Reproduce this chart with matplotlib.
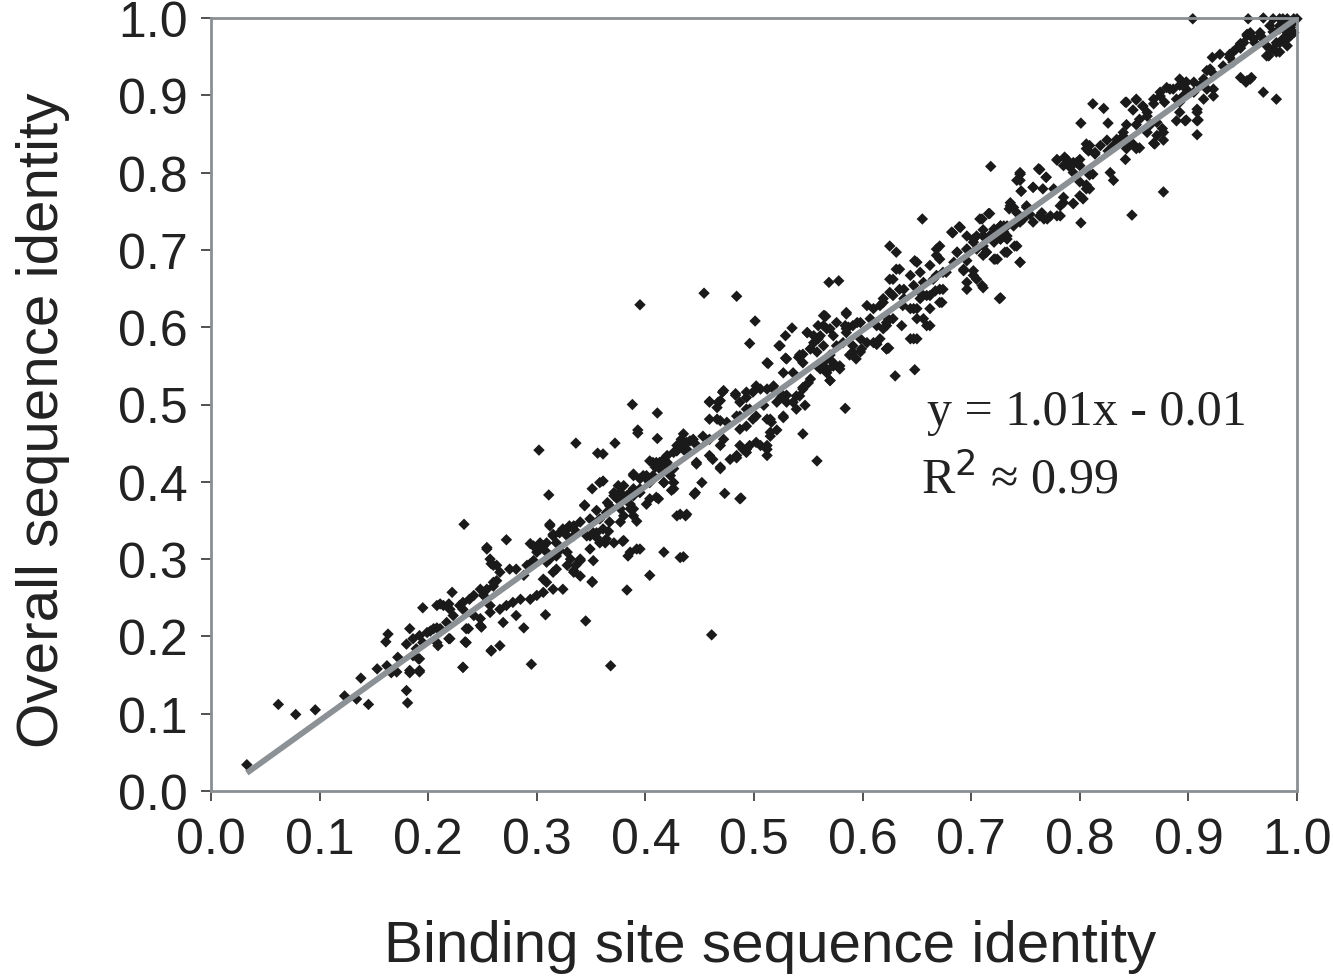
import matplotlib
matplotlib.use("Agg")
import matplotlib.pyplot as plt

# (binding site identity, overall identity) pairs, grouped by region
pts_low = [
    (0.033, 0.034), (0.062, 0.112), (0.078, 0.099), (0.096, 0.105), (0.123, 0.123), (0.134, 0.119),
    (0.138, 0.146), (0.145, 0.112), (0.153, 0.158), (0.162, 0.162), (0.166, 0.153), (0.171, 0.154),
    (0.172, 0.173), (0.180, 0.130), (0.181, 0.114), (0.183, 0.153), (0.192, 0.154), (0.161, 0.193),
    (0.163, 0.203), (0.183, 0.210), (0.180, 0.190), (0.186, 0.197), (0.191, 0.171), (0.189, 0.184),
    (0.195, 0.237), (0.202, 0.207), (0.208, 0.211), (0.209, 0.188), (0.211, 0.242), (0.219, 0.242),
    (0.222, 0.257), (0.219, 0.197), (0.232, 0.160), (0.234, 0.193), (0.223, 0.227), (0.232, 0.235),
    (0.238, 0.248), (0.237, 0.210), (0.242, 0.227), (0.249, 0.212), (0.251, 0.257), (0.257, 0.240),
    (0.258, 0.182), (0.260, 0.270), (0.254, 0.313), (0.258, 0.294),
    (0.183, 0.156), (0.192, 0.156), (0.186, 0.175), (0.192, 0.171), (0.195, 0.192), (0.192, 0.201),
    (0.199, 0.205), (0.205, 0.210), (0.211, 0.210), (0.217, 0.218), (0.208, 0.240), (0.214, 0.240),
    (0.220, 0.235), (0.229, 0.240), (0.232, 0.244), (0.242, 0.253), (0.251, 0.253), (0.248, 0.261),
    (0.254, 0.261), (0.260, 0.265), (0.263, 0.272), (0.257, 0.300), (0.260, 0.292), (0.266, 0.283),
    (0.208, 0.192), (0.220, 0.197), (0.235, 0.210), (0.235, 0.192), (0.248, 0.214), (0.248, 0.223),
    (0.257, 0.231), (0.266, 0.235), (0.272, 0.240), (0.278, 0.244), (0.285, 0.248), (0.269, 0.218),
    (0.281, 0.227), (0.288, 0.211), (0.258, 0.181), (0.266, 0.188), (0.232, 0.160),
]
pts_lowmid = [
    (0.233, 0.345), (0.254, 0.315), (0.272, 0.325), (0.263, 0.292), (0.275, 0.287), (0.281, 0.287),
    (0.288, 0.279), (0.291, 0.292), (0.294, 0.294), (0.297, 0.298), (0.297, 0.317), (0.294, 0.320),
    (0.303, 0.321), (0.303, 0.313), (0.306, 0.317), (0.300, 0.309), (0.309, 0.309), (0.309, 0.296),
    (0.318, 0.304), (0.312, 0.300), (0.318, 0.287), (0.315, 0.283), (0.306, 0.274), (0.315, 0.261),
    (0.306, 0.257), (0.300, 0.253), (0.294, 0.248), (0.309, 0.270), (0.324, 0.261), (0.308, 0.228),
    (0.345, 0.220), (0.295, 0.164), (0.368, 0.162), (0.311, 0.383), (0.302, 0.441), (0.336, 0.450),
    (0.312, 0.345), (0.315, 0.332), (0.324, 0.339), (0.330, 0.343), (0.336, 0.336), (0.328, 0.330),
    (0.334, 0.330), (0.346, 0.330), (0.352, 0.334), (0.355, 0.328), (0.358, 0.321), (0.363, 0.321),
    (0.366, 0.336), (0.312, 0.343), (0.318, 0.321), (0.321, 0.334), (0.315, 0.330), (0.309, 0.321),
    (0.321, 0.311), (0.328, 0.309), (0.331, 0.300), (0.328, 0.292), (0.334, 0.283), (0.340, 0.278),
    (0.340, 0.300), (0.349, 0.313), (0.352, 0.298), (0.336, 0.292), (0.334, 0.285), (0.340, 0.298),
    (0.351, 0.270), (0.351, 0.271), (0.344, 0.370), (0.355, 0.363), (0.349, 0.352), (0.358, 0.352),
    (0.367, 0.369), (0.374, 0.382), (0.377, 0.386), (0.383, 0.378), (0.389, 0.382), (0.386, 0.365),
    (0.377, 0.348), (0.367, 0.348), (0.361, 0.339), (0.355, 0.334), (0.349, 0.330), (0.340, 0.348),
    (0.334, 0.343), (0.328, 0.339), (0.364, 0.326), (0.371, 0.321), (0.380, 0.324), (0.386, 0.309),
    (0.392, 0.313), (0.384, 0.304), (0.383, 0.260), (0.379, 0.323), (0.395, 0.313), (0.417, 0.309),
    (0.432, 0.302), (0.404, 0.279), (0.461, 0.202), (0.435, 0.303), (0.432, 0.358), (0.438, 0.358),
    (0.389, 0.365), (0.380, 0.356), (0.364, 0.360), (0.389, 0.356), (0.392, 0.349), (0.429, 0.356),
    (0.437, 0.356), (0.410, 0.380), (0.401, 0.371),
]
pts_mid = [
    (0.388, 0.500), (0.411, 0.489), (0.393, 0.467), (0.393, 0.463), (0.411, 0.456), (0.372, 0.450),
    (0.356, 0.437), (0.361, 0.436), (0.435, 0.462), (0.441, 0.453), (0.432, 0.447), (0.429, 0.440),
    (0.446, 0.449), (0.438, 0.442), (0.447, 0.423), (0.445, 0.384), (0.404, 0.427), (0.417, 0.429),
    (0.409, 0.419), (0.413, 0.425), (0.389, 0.410), (0.401, 0.404), (0.398, 0.408), (0.404, 0.399),
    (0.417, 0.399), (0.426, 0.391), (0.351, 0.391), (0.361, 0.401), (0.371, 0.386), (0.375, 0.395),
    (0.378, 0.380), (0.374, 0.378), (0.386, 0.371), (0.377, 0.365), (0.344, 0.369), (0.371, 0.382),
    (0.365, 0.373), (0.358, 0.399), (0.386, 0.386), (0.395, 0.391), (0.389, 0.408), (0.395, 0.404),
    (0.401, 0.408), (0.407, 0.408), (0.380, 0.395), (0.389, 0.391), (0.383, 0.382), (0.395, 0.386),
    (0.404, 0.378), (0.417, 0.399), (0.426, 0.417), (0.413, 0.417), (0.420, 0.421), (0.410, 0.425),
    (0.417, 0.429), (0.420, 0.434), (0.426, 0.438), (0.438, 0.438), (0.435, 0.442), (0.429, 0.447),
    (0.433, 0.455), (0.438, 0.451), (0.444, 0.455), (0.453, 0.459), (0.459, 0.455), (0.472, 0.455),
    (0.469, 0.447), (0.478, 0.429), (0.484, 0.434), (0.493, 0.438), (0.490, 0.442), (0.496, 0.447),
    (0.506, 0.447), (0.512, 0.447), (0.515, 0.459), (0.521, 0.467), (0.447, 0.425), (0.459, 0.434),
    (0.469, 0.419), (0.452, 0.399), (0.424, 0.389), (0.446, 0.386), (0.473, 0.385), (0.488, 0.379),
    (0.487, 0.378), (0.412, 0.378), (0.423, 0.408), (0.426, 0.399), (0.420, 0.425), (0.407, 0.425),
    (0.545, 0.462), (0.558, 0.427), (0.459, 0.504), (0.467, 0.503), (0.471, 0.516), (0.483, 0.512),
    (0.493, 0.516), (0.502, 0.524), (0.512, 0.520), (0.518, 0.524), (0.525, 0.509), (0.530, 0.503),
    (0.542, 0.511), (0.545, 0.520), (0.550, 0.528), (0.466, 0.481), (0.475, 0.477), (0.487, 0.485),
    (0.493, 0.494), (0.502, 0.485), (0.512, 0.481), (0.516, 0.477), (0.527, 0.483), (0.515, 0.464),
    (0.487, 0.447), (0.493, 0.442), (0.484, 0.431), (0.502, 0.451), (0.512, 0.442), (0.512, 0.434),
    (0.462, 0.429), (0.469, 0.417), (0.545, 0.522), (0.539, 0.511), (0.530, 0.512), (0.525, 0.514),
    (0.518, 0.520), (0.506, 0.520), (0.499, 0.516), (0.493, 0.509), (0.487, 0.503), (0.496, 0.494),
    (0.509, 0.499), (0.521, 0.503), (0.527, 0.485), (0.536, 0.503), (0.547, 0.499), (0.539, 0.494),
    (0.483, 0.514), (0.472, 0.518), (0.469, 0.505), (0.459, 0.503), (0.466, 0.496), (0.459, 0.481),
    (0.469, 0.479), (0.484, 0.485), (0.487, 0.468), (0.493, 0.472), (0.499, 0.481), (0.515, 0.481),
]
pts_upmid = [
    (0.395, 0.629), (0.454, 0.644), (0.484, 0.640), (0.569, 0.658), (0.578, 0.660), (0.625, 0.705),
    (0.631, 0.697), (0.501, 0.608), (0.496, 0.579), (0.513, 0.553), (0.523, 0.576), (0.529, 0.589),
    (0.535, 0.599), (0.549, 0.593), (0.555, 0.580), (0.559, 0.585), (0.564, 0.602), (0.570, 0.598),
    (0.566, 0.614), (0.585, 0.619), (0.584, 0.602), (0.587, 0.600), (0.529, 0.560), (0.541, 0.561),
    (0.545, 0.565), (0.552, 0.572), (0.558, 0.550), (0.564, 0.546), (0.570, 0.531), (0.573, 0.554),
    (0.579, 0.550), (0.591, 0.576), (0.598, 0.568), (0.604, 0.580), (0.613, 0.578), (0.623, 0.573),
    (0.630, 0.537), (0.622, 0.602), (0.628, 0.611), (0.619, 0.632), (0.625, 0.645), (0.584, 0.495),
    (0.561, 0.589), (0.567, 0.598), (0.564, 0.576), (0.558, 0.568), (0.552, 0.572), (0.542, 0.564),
    (0.530, 0.559), (0.524, 0.576), (0.512, 0.554), (0.570, 0.564), (0.573, 0.550), (0.567, 0.544),
    (0.561, 0.546), (0.552, 0.533), (0.545, 0.554), (0.536, 0.541), (0.527, 0.541), (0.570, 0.531),
    (0.576, 0.576), (0.582, 0.580), (0.585, 0.593), (0.591, 0.602), (0.598, 0.606), (0.607, 0.611),
    (0.604, 0.628), (0.610, 0.624), (0.622, 0.613), (0.619, 0.598), (0.616, 0.585), (0.622, 0.572),
    (0.567, 0.559), (0.573, 0.550), (0.579, 0.546), (0.567, 0.541), (0.564, 0.550), (0.565, 0.615),
    (0.559, 0.602), (0.585, 0.617), (0.599, 0.572), (0.591, 0.568), (0.594, 0.559), (0.588, 0.564),
    (0.613, 0.578), (0.624, 0.573), (0.648, 0.545), (0.573, 0.589), (0.555, 0.589), (0.549, 0.593),
    (0.598, 0.585), (0.610, 0.580), (0.644, 0.585), (0.650, 0.585), (0.595, 0.606), (0.576, 0.606),
    (0.564, 0.615), (0.585, 0.598),
]
pts_upper = [
    (0.655, 0.740), (0.683, 0.722), (0.689, 0.730), (0.710, 0.740), (0.716, 0.747), (0.718, 0.808),
    (0.671, 0.705), (0.668, 0.693), (0.687, 0.697), (0.650, 0.684), (0.634, 0.675), (0.644, 0.667),
    (0.628, 0.662), (0.677, 0.671), (0.668, 0.667), (0.693, 0.675), (0.702, 0.667), (0.710, 0.654),
    (0.696, 0.658), (0.671, 0.649), (0.662, 0.641), (0.653, 0.645), (0.634, 0.649), (0.628, 0.641),
    (0.619, 0.637), (0.616, 0.628), (0.637, 0.628), (0.647, 0.624), (0.650, 0.611), (0.659, 0.602),
    (0.622, 0.606), (0.613, 0.602), (0.673, 0.632), (0.696, 0.649), (0.726, 0.637),
    (0.648, 0.686), (0.653, 0.671), (0.662, 0.680), (0.668, 0.701), (0.671, 0.688), (0.674, 0.671),
    (0.665, 0.662), (0.656, 0.658), (0.647, 0.654), (0.638, 0.649), (0.631, 0.675), (0.625, 0.662),
    (0.638, 0.637), (0.644, 0.624), (0.653, 0.637), (0.659, 0.641), (0.667, 0.647), (0.674, 0.649),
    (0.671, 0.632), (0.662, 0.624), (0.656, 0.611), (0.650, 0.624), (0.662, 0.602), (0.647, 0.585),
    (0.636, 0.602), (0.622, 0.572),
    (0.708, 0.740), (0.711, 0.726), (0.705, 0.718), (0.717, 0.718), (0.724, 0.726), (0.730, 0.731),
    (0.736, 0.757), (0.742, 0.748), (0.739, 0.731), (0.733, 0.714), (0.727, 0.714), (0.721, 0.710),
    (0.731, 0.697), (0.722, 0.688), (0.711, 0.693), (0.705, 0.701), (0.696, 0.701), (0.687, 0.697),
    (0.684, 0.684), (0.696, 0.686), (0.702, 0.673), (0.693, 0.673), (0.705, 0.662), (0.711, 0.651),
    (0.727, 0.638), (0.702, 0.714), (0.696, 0.718), (0.682, 0.723), (0.690, 0.729),
    (0.735, 0.753), (0.745, 0.798), (0.745, 0.790), (0.762, 0.805), (0.769, 0.794), (0.751, 0.755),
    (0.727, 0.731), (0.733, 0.718), (0.742, 0.705), (0.745, 0.684), (0.733, 0.697), (0.724, 0.688),
    (0.714, 0.697), (0.711, 0.718), (0.702, 0.710), (0.696, 0.701), (0.763, 0.744), (0.770, 0.740),
    (0.779, 0.744),
]
pts_high = [
    (0.812, 0.889), (0.801, 0.864), (0.779, 0.816), (0.786, 0.820), (0.791, 0.807), (0.797, 0.813),
    (0.806, 0.831), (0.814, 0.826), (0.809, 0.797), (0.806, 0.779), (0.803, 0.766), (0.794, 0.760),
    (0.785, 0.761), (0.776, 0.779), (0.766, 0.779), (0.757, 0.781), (0.746, 0.776), (0.801, 0.735),
    (0.822, 0.883), (0.826, 0.864), (0.842, 0.891), (0.852, 0.894), (0.858, 0.886), (0.849, 0.881),
    (0.868, 0.889), (0.874, 0.904), (0.883, 0.908), (0.892, 0.913), (0.898, 0.917), (0.905, 0.904),
    (0.889, 0.895), (0.878, 0.891), (0.855, 0.869), (0.862, 0.873), (0.852, 0.862), (0.843, 0.862),
    (0.840, 0.852), (0.865, 0.862), (0.876, 0.857), (0.871, 0.848), (0.877, 0.842), (0.889, 0.867),
    (0.897, 0.867), (0.908, 0.867), (0.908, 0.849), (0.892, 0.878), (0.834, 0.843), (0.831, 0.835),
    (0.843, 0.835), (0.849, 0.837), (0.855, 0.832), (0.868, 0.838), (0.825, 0.842), (0.819, 0.835),
    (0.809, 0.835), (0.806, 0.837), (0.800, 0.817), (0.808, 0.828), (0.814, 0.824), (0.826, 0.828),
    (0.842, 0.817), (0.828, 0.800), (0.831, 0.790), (0.812, 0.798), (0.800, 0.809), (0.794, 0.813),
    (0.788, 0.817), (0.779, 0.817), (0.785, 0.809), (0.794, 0.800), (0.800, 0.788), (0.806, 0.784),
    (0.800, 0.770), (0.809, 0.779), (0.794, 0.760), (0.785, 0.768), (0.782, 0.757), (0.782, 0.744),
    (0.773, 0.744), (0.765, 0.748), (0.767, 0.740), (0.763, 0.804), (0.769, 0.794), (0.757, 0.781),
    (0.745, 0.798), (0.746, 0.776), (0.742, 0.790), (0.736, 0.761), (0.739, 0.755), (0.751, 0.757),
    (0.754, 0.746), (0.748, 0.740), (0.757, 0.736), (0.745, 0.736), (0.733, 0.731), (0.727, 0.731),
    (0.721, 0.727), (0.730, 0.723), (0.727, 0.714), (0.717, 0.718), (0.714, 0.714), (0.711, 0.705),
    (0.714, 0.697), (0.721, 0.688), (0.733, 0.697), (0.740, 0.705), (0.745, 0.684), (0.717, 0.747),
    (0.848, 0.745), (0.877, 0.775), (0.852, 0.831), (0.843, 0.831), (0.862, 0.852), (0.869, 0.837),
    (0.843, 0.843), (0.837, 0.843), (0.745, 0.800), (0.763, 0.804),
]
pts_top = [
    (0.904, 0.999), (0.955, 0.999), (0.969, 1.000), (0.978, 0.999), (0.987, 0.999), (0.997, 0.996),
    (0.984, 0.999), (0.991, 0.999), (0.997, 0.999), (1.000, 0.999), (0.984, 0.990), (0.991, 0.986),
    (0.994, 0.977), (0.987, 0.973), (0.981, 0.968), (0.975, 0.960), (0.972, 0.951), (0.981, 0.956),
    (0.991, 0.981), (0.966, 0.981), (0.960, 0.973), (0.954, 0.979), (0.948, 0.967), (0.975, 0.990),
    (0.984, 0.986), (0.994, 0.988), (0.997, 0.981), (0.991, 0.973), (0.984, 0.968), (0.978, 0.960),
    (0.972, 0.964), (0.974, 0.951), (0.984, 0.956), (0.991, 0.964), (0.966, 0.977), (0.961, 0.968),
    (0.957, 0.981), (0.954, 0.977), (0.951, 0.968), (0.948, 0.961), (0.941, 0.956), (0.938, 0.949),
    (0.929, 0.953), (0.922, 0.949), (0.944, 0.960), (0.941, 0.943), (0.938, 0.953), (0.948, 0.923),
    (0.957, 0.921), (0.953, 0.917), (0.954, 0.919), (0.958, 0.923), (0.969, 0.904), (0.981, 0.895),
    (0.923, 0.928), (0.920, 0.934), (0.932, 0.938), (0.914, 0.921), (0.911, 0.913), (0.905, 0.917),
    (0.898, 0.908), (0.895, 0.899), (0.892, 0.891), (0.917, 0.908), (0.923, 0.899), (0.914, 0.895),
    (0.908, 0.878), (0.898, 0.868), (0.909, 0.868), (0.917, 0.932), (0.923, 0.908), (0.908, 0.882),
    (0.898, 0.917), (0.892, 0.921), (0.886, 0.908), (0.880, 0.910), (0.874, 0.899), (0.868, 0.895),
    (0.858, 0.886), (0.852, 0.895), (0.843, 0.891), (0.862, 0.878), (0.871, 0.865), (0.877, 0.852),
    (0.989, 0.994), (0.995, 0.992), (0.978, 0.982), (0.970, 0.972),
]

fit_slope = 1.01
fit_intercept = -0.01
fit_x = [0.033, 1.0]
fit_label = "y = 1.01x - 0.01"
r2_label = "R$^{2}$ \u2248 0.99"

x_ticks = [0.0, 0.1, 0.2, 0.3, 0.4, 0.5, 0.6, 0.7, 0.8, 0.9, 1.0]
y_ticks = [0.0, 0.1, 0.2, 0.3, 0.4, 0.5, 0.6, 0.7, 0.8, 0.9, 1.0]

all_pts = pts_low + pts_lowmid + pts_mid + pts_upmid + pts_upper + pts_high + pts_top
binding_identity = [p[0] for p in all_pts]
overall_identity = [p[1] for p in all_pts]

fig = plt.figure(figsize=(13.33, 9.79), dpi=100)
ax = fig.add_axes([211 / 1333, 1 - 792 / 979, (1297 - 211) / 1333, (792 - 19) / 979])

ax.scatter(binding_identity, overall_identity, marker="D", s=34, color="#1a1a1a",
           edgecolors="none", zorder=2, clip_on=False)
fit_y = [fit_slope * v + fit_intercept for v in fit_x]
ax.plot(fit_x, fit_y, color="#8c9196", linewidth=4.2, solid_capstyle="butt", zorder=3)

ax.set_xlim(0, 1)
ax.set_ylim(0, 1)
ax.set_xticks(x_ticks)
ax.set_yticks(y_ticks)
ax.set_xticklabels([f"{v:.1f}" for v in x_ticks])
ax.set_yticklabels([f"{v:.1f}" for v in y_ticks])

font = "Liberation Sans"
for lab in ax.get_xticklabels() + ax.get_yticklabels():
    lab.set_fontfamily(font)
    lab.set_fontsize(36)
    lab.set_color("#222222")
ax.tick_params(axis="x", direction="out", length=7, width=1.2, color="#333333", pad=12)
ax.tick_params(axis="y", direction="out", length=7, width=1.2, color="#333333", pad=10)

for sp in ax.spines.values():
    sp.set_color("#8a8f94")
    sp.set_linewidth(2)

ax.set_xlabel("Binding site sequence identity", fontfamily=font, fontsize=42, color="#222222")
ax.set_ylabel("Overall sequence identity", fontfamily=font, fontsize=42, color="#222222")
ax.xaxis.set_label_coords(0.515, -0.165)
ax.yaxis.set_label_coords(-0.13, 0.481)

ax.text(0.659, 0.490, fit_label, transform=ax.transData, fontfamily="Liberation Serif", fontsize=36,
        color="#222222", va="center", ha="left")
ax.text(0.654, 0.404, r2_label, transform=ax.transData, fontfamily="Liberation Serif", fontsize=36,
        color="#222222", va="center", ha="left")

fig.savefig("out.png", dpi=100)
